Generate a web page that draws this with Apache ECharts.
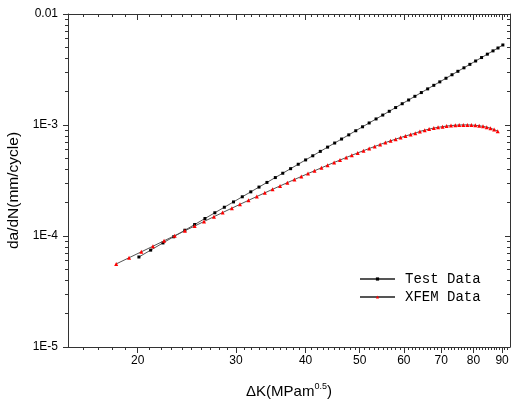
<!DOCTYPE html>
<html>
<head>
<meta charset="utf-8">
<script src="https://cdn.jsdelivr.net/npm/echarts@6/dist/echarts.min.js"></script>
<style>html,body{margin:0;padding:0;background:#fff;}#c{width:512px;height:403px;}</style>
</head>
<body>
<div id="c"></div>
<script>
// ---- data ----
const testK = [20.1,21.1,22.2,23.2,24.3,25.3,26.4,27.5,28.6,29.7,30.8,31.9,33.0,34.1,35.3,36.4,37.6,38.8,40.0,41.2,42.5,43.8,45.1,46.4,47.8,49.2,50.6,52.0,53.5,55.0,56.5,58.0,59.6,61.2,62.8,64.5,66.2,67.9,69.6,71.4,73.2,75.0,76.9,78.8,80.7,82.7,84.7,86.7,88.5,90.3];
const testRate = [6.47e-5,7.46e-5,8.66e-5,9.84e-5,1.127e-4,1.268e-4,1.437e-4,1.619e-4,1.816e-4,2.028e-4,2.256e-4,2.499e-4,2.759e-4,3.038e-4,3.361e-4,3.676e-4,4.042e-4,4.43e-4,4.845e-4,5.28e-4,5.785e-4,6.32e-4,6.88e-4,7.475e-4,8.15e-4,8.876e-4,9.635e-4,1.043e-3,1.134e-3,1.229e-3,1.329e-3,1.436e-3,1.555e-3,1.68e-3,1.813e-3,1.96e-3,2.115e-3,2.277e-3,2.447e-3,2.637e-3,2.836e-3,3.046e-3,3.275e-3,3.518e-3,3.773e-3,4.053e-3,4.346e-3,4.654e-3,4.94e-3,5.26e-3];
const xfemK = [18.3,19.3,20.3,21.3,22.3,23.3,24.3,25.3,26.3,27.4,28.4,29.5,30.5,31.6,32.7,33.8,34.9,36.0,37.1,38.2,39.3,40.4,41.5,42.7,43.8,45.0,46.1,47.3,48.4,49.6,50.8,52.0,53.2,54.4,55.6,56.8,58.0,59.2,60.4,61.7,62.9,64.1,65.4,66.6,67.9,69.1,70.4,71.6,72.9,74.2,75.4,76.7,78.0,79.3,80.6,81.9,83.2,84.5,85.8,87.1,88.4];
const xfemRate = [5.6e-5,6.37e-5,7.2e-5,8.09e-5,9.05e-5,1.007e-4,1.115e-4,1.229e-4,1.351e-4,1.493e-4,1.627e-4,1.781e-4,1.928e-4,2.096e-4,2.268e-4,2.447e-4,2.634e-4,2.826e-4,3.024e-4,3.228e-4,3.437e-4,3.652e-4,3.87e-4,4.115e-4,4.345e-4,4.597e-4,4.832e-4,5.095e-4,5.335e-4,5.604e-4,5.872e-4,6.14e-4,6.407e-4,6.675e-4,6.945e-4,7.2e-4,7.46e-4,7.71e-4,7.955e-4,8.214e-4,8.446e-4,8.75e-4,8.98e-4,9.18e-4,9.38e-4,9.53e-4,9.66e-4,9.78e-4,9.88e-4,9.95e-4,1.0e-3,1.002e-3,1.002e-3,9.99e-4,9.93e-4,9.84e-4,9.72e-4,9.56e-4,9.36e-4,9.1e-4,8.8e-4];
const xMajorTicks = [20,30,40,50,60,70,80,90];
const xMinorTicks = [16,17,18,19,21,22,23,24,25,26,27,28,29,31,32,33,34,35,36,37,38,39,41,42,43,44,45,46,47,48,49,51,52,53,54,55,56,57,58,59,61,62,63,64,65,66,67,68,69,71,72,73,74,75,76,77,78,79,81,82,83,84,85,86,87,88,89,91,92];
const yMajorTicks = [1e-5,1e-4,1e-3,1e-2];
const yMajorLabels = ['1E-5','1E-4','1E-3','0.01'];
const yMinorTicks = [2e-5,3e-5,4e-5,5e-5,6e-5,7e-5,8e-5,9e-5,2e-4,3e-4,4e-4,5e-4,6e-4,7e-4,8e-4,9e-4,2e-3,3e-3,4e-3,5e-3,6e-3,7e-3,8e-3,9e-3];
const seriesNames = ['Test Data','XFEM Data'];
const xTitle = 'ΔK(MPam{sup|0.5})';
const yTitle = 'da/dN(mm/cycle)';

// ---- chart ----
const AX = '#333';
const FONT = "'Liberation Sans', Arial, sans-serif";
const X_MIN = 15, X_MAX = 93, Y_MIN = 1e-5, Y_MAX = 1e-2;

function xAx(pos, ticks, len, inside, extra) {
  return Object.assign({
    type: 'log', logBase: 10, min: X_MIN, max: X_MAX, position: pos, gridIndex: 0,
    axisLine: { show: true, onZero: false, lineStyle: { color: AX, width: 1 } },
    axisTick: { show: true, customValues: ticks, length: len, inside: inside, lineStyle: { color: AX, width: 1 } },
    axisLabel: { show: false },
    splitLine: { show: false }, minorTick: { show: false }, minorSplitLine: { show: false }
  }, extra || {});
}
function yAx(pos, ticks, len, inside, extra) {
  return Object.assign({
    type: 'log', logBase: 10, min: Y_MIN, max: Y_MAX, position: pos, gridIndex: 0,
    axisLine: { show: true, onZero: false, lineStyle: { color: AX, width: 1 } },
    axisTick: { show: true, customValues: ticks, length: len, inside: inside, lineStyle: { color: AX, width: 1 } },
    axisLabel: { show: false },
    splitLine: { show: false }, minorTick: { show: false }, minorSplitLine: { show: false }
  }, extra || {});
}

const chart = echarts.init(document.getElementById('c'), null, { renderer: 'canvas' });
chart.setOption({
  animation: false,
  backgroundColor: '#fff',
  grid: { left: 68, top: 14, right: 2, bottom: 56, containLabel: false, outerBoundsMode: 'none' },
  legend: {
    orient: 'vertical', left: 354, top: 267, itemGap: 4,
    itemWidth: 35, itemHeight: 4,
    data: seriesNames,
    textStyle: { fontFamily: "'Liberation Mono', 'DejaVu Sans Mono', monospace", fontSize: 14, color: '#000', padding: [0, 0, 0, 5] }
  },
  xAxis: [
    xAx('bottom', xMajorTicks, 6, false, {
      axisLabel: { show: true, customValues: xMajorTicks, margin: 8, color: '#000', fontSize: 12, fontFamily: FONT },
      name: xTitle, nameLocation: 'middle', nameGap: 35,
      nameTextStyle: { color: '#000', fontSize: 15, fontFamily: FONT,
        rich: { sup: { fontSize: 9, color: '#000', fontFamily: FONT, padding: [0, 0, 10, 0] } } }
    }),
    xAx('bottom', xMinorTicks, 3, false, { axisLine: { show: false } }),
    xAx('top', xMajorTicks, 6, true),
    xAx('top', xMinorTicks, 3, true, { axisLine: { show: false } })
  ],
  yAxis: [
    yAx('left', yMajorTicks, 5, false, {
      axisLabel: { show: true, customValues: yMajorTicks, margin: 10, color: '#000', fontSize: 12, fontFamily: FONT,
        formatter: function (v) { for (let i = 0; i < yMajorTicks.length; i++) { if (Math.abs(Math.log10(v) - Math.log10(yMajorTicks[i])) < 1e-6) return yMajorLabels[i]; } return ''; } },
      name: yTitle, nameLocation: 'middle', nameGap: 42, nameRotate: 90,
      nameTextStyle: { color: '#000', fontSize: 15.5, fontFamily: FONT, padding: [0, 20, 0, 0] }
    }),
    yAx('left', yMinorTicks, 3, false, { axisLine: { show: false } }),
    yAx('right', yMajorTicks, 5, true),
    yAx('right', yMinorTicks, 3, true, { axisLine: { show: false } })
  ],
  series: [
    {
      name: seriesNames[0], type: 'line', xAxisIndex: 0, yAxisIndex: 0,
      data: testK.map((k, i) => [k, testRate[i]]),
      symbol: 'rect', symbolSize: 3, showAllSymbol: true,
      itemStyle: { color: '#000' },
      lineStyle: { color: '#555', width: 1 },
      z: 2
    },
    {
      name: seriesNames[1], type: 'line', xAxisIndex: 0, yAxisIndex: 0,
      data: xfemK.map((k, i) => [k, xfemRate[i]]),
      symbol: 'triangle', symbolSize: 4, showAllSymbol: true,
      itemStyle: { color: '#ff0000' },
      lineStyle: { color: '#555', width: 1 },
      z: 3
    }
  ]
});
</script>
</body>
</html>
